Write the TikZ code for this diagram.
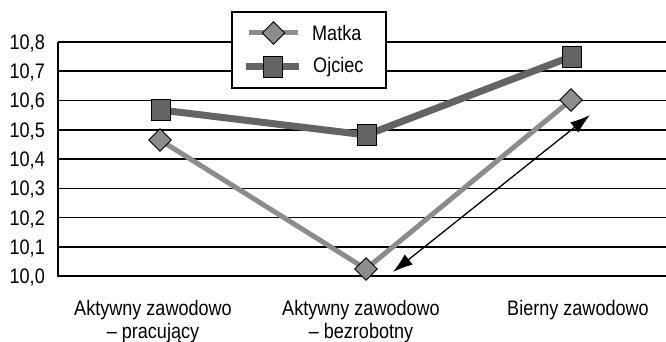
\documentclass[tikz,border=0pt]{standalone}
\usepackage{fontspec}
\setmainfont{Liberation Sans}[FakeStretch=0.86]
\usetikzlibrary{arrows.meta,shapes.geometric}

\definecolor{matkagray}{HTML}{8C8C8C}
\definecolor{ojciecgray}{HTML}{646464}

\tikzset{
  gridline/.style={line width=1.5pt, black},
  matkaline/.style={line width=5pt, matkagray, line join=round},
  ojciecline/.style={line width=7pt, ojciecgray, line join=round},
  diamondmark/.style={diamond, draw=black, line width=0.9pt, fill=matkagray,
    minimum width=23pt, minimum height=23pt, inner sep=0pt},
  squaremark/.style={rectangle, draw=black, line width=0.9pt, fill=ojciecgray,
    minimum width=19pt, minimum height=21pt, inner sep=0pt},
  ylabel/.style={anchor=base east, inner sep=0pt, font=\fontsize{21}{24}\selectfont},
  catlabel/.style={anchor=north, inner sep=0pt, align=center,
    font=\fontsize{21}{23}\selectfont},
  legendtext/.style={anchor=west, inner sep=0pt, font=\fontsize{21}{24}\selectfont},
  doublearrow/.style={{Latex[length=20pt,width=13pt]}-{Latex[length=20pt,width=13pt]}, line width=1.3pt}
}

\begin{document}
\begin{tikzpicture}[x=1pt,y=-1pt]
\useasboundingbox (0,0) rectangle (666,342);
\fill[white] (0,0) rectangle (666,342);

% horizontal grid lines and value labels
\foreach \v in {1,...,8} {
  \draw[gridline] (58,{276-\v*29.25}) -- (666,{276-\v*29.25});
  \node[ylabel] (y\v) at (45,{276-\v*29.25+7.5}) {10,\v};
}
\node[ylabel] (y0) at (45,283.5) {10,0};

% axes
\draw[gridline] (58,41.75) -- (58,276) -- (666,276);

% data points
\coordinate (m1) at (160,140);
\coordinate (m2) at (366,269);
\coordinate (m3) at (571,100);
\coordinate (o1) at (161,110);
\coordinate (o2) at (366.5,135);
\coordinate (o3) at (571.5,56.5);

% series lines
\draw[matkaline] (m1) -- (m2) -- (m3);
\draw[ojciecline] (o1) -- (o2) -- (o3);

% markers
\foreach \i in {1,2,3} {
  \node[diamondmark] (dm\i) at (m\i) {};
  \node[squaremark] (sq\i) at (o\i) {};
}

% double arrow beside the rising segment
\coordinate (a1) at (590,115);
\coordinate (a2) at (393,272);
\draw[doublearrow] (a1) -- (a2);

% category labels
\node[catlabel] (c1) at (153,300) {Aktywny zawodowo\\– pracujący};
\node[catlabel] (c2) at (361,300) {Aktywny zawodowo\\– bezrobotny};
\node[catlabel] (c3) at (578,300) {Bierny zawodowo};

% legend
\node[draw=black, line width=1.3pt, fill=white, minimum width=154pt, minimum height=76pt,
  inner sep=0pt] (legend) at (309,50) {};
\coordinate (lm1) at (249,33);
\coordinate (lm2) at (298,33);
\coordinate (lo1) at (246,67);
\coordinate (lo2) at (299,67);
\draw[matkaline] (lm1) -- (lm2);
\draw[ojciecline] (lo1) -- (lo2);
\node[diamondmark] (ldm) at (273.5,33) {};
\node[squaremark] (lsq) at (272.5,67) {};
\node[legendtext] (lt1) at (312,33) {Matka};
\node[legendtext] (lt2) at (313,67) {Ojciec};
\end{tikzpicture}
\end{document}
